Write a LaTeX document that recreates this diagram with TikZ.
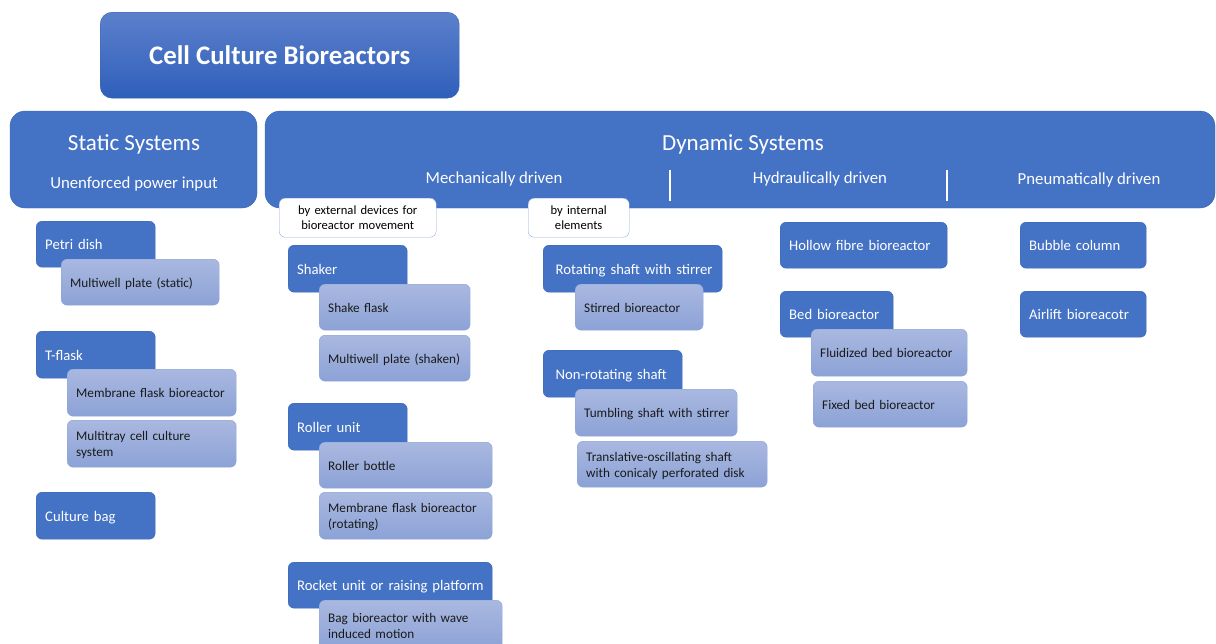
\documentclass[tikz,border=0pt]{standalone}
\usepackage{fontspec}
\setmainfont{Carlito}
\definecolor{dkblue}{HTML}{4472C4}
\definecolor{dkedge}{HTML}{3B66B5}
\definecolor{ttltop}{HTML}{5C80CC}
\definecolor{ttlbot}{HTML}{2F5FBA}
\definecolor{lttop}{HTML}{A9B8E0}
\definecolor{ltbot}{HTML}{8CA2D6}
\definecolor{ltedge}{HTML}{8EA6DA}
\definecolor{lbledge}{HTML}{8FAADC}
\definecolor{ink}{HTML}{1A1A1A}
\tikzset{
  base/.style={anchor=north west, align=left, inner ysep=1pt, rounded corners=6pt},
  dk/.style={base, draw=dkedge, fill=dkblue, text=white, font=\fontsize{14.7}{17}\selectfont},
  lt/.style={base, draw=ltedge, top color=lttop, bottom color=ltbot, text=ink, font=\fontsize{13.2}{16}\selectfont},
  lbl/.style={base, align=center, draw=lbledge, fill=white, text=black, font=\fontsize{12.6}{15.5}\selectfont},
  ttl/.style={base, align=center, draw=dkedge, top color=ttltop, bottom color=ttlbot, text=white, rounded corners=12pt, font=\fontsize{26.8}{30}\selectfont\bfseries},
  hdr/.style={draw=dkedge, fill=dkblue, rounded corners=15pt},
  hdrbig/.style={text=white, font=\fontsize{23}{26}\selectfont},
  hdrsub/.style={text=white, font=\fontsize{16.8}{20}\selectfont},
  sep/.style={draw=white, line width=2.5pt}
}
% \cell[padding]{style}{name}{x1}{y1}{x2}{y2}{text}; lines never wrap
\newcommand\cell[8][9]{%
  \pgfmathsetmacro\cellw{#6-#4-2*#1}%
  \pgfmathsetmacro\cellh{#7-#5}%
  \node[#2, inner xsep=#1pt, text width=\cellw pt, minimum height=\cellh pt] (#3) at (#4,#5)
    {\raisebox{-2pt}[\height][\depth]{\begin{tabular}{@{}l@{}}#8\end{tabular}}};%
}
\begin{document}
\begin{tikzpicture}[x=1pt, y=-1pt]
\useasboundingbox (0,0) rectangle (1216,643);

% title
\node[ttl, minimum width=359pt, minimum height=86pt] (title) at (100,12) {Cell Culture Bioreactors};

% top-level groups
\draw[hdr] (10,111) rectangle (257,208);
\node[hdrbig] (static) at (134,144) {Static Systems};
\node[hdrsub] (unenf) at (134,184) {Unenforced power input};

\draw[hdr] (265,111) rectangle (1215,208);
\node[hdrbig] (dynamic) at (743,144) {Dynamic Systems};
\node[hdrsub] (mech) at (494,179) {Mechanically driven};
\node[hdrsub] (hydr) at (820,179) {Hydraulically driven};
\node[hdrsub] (pneu) at (1089,180) {Pneumatically driven};
\coordinate (s1a) at (670,170); \coordinate (s1b) at (670,201);
\coordinate (s2a) at (947,170); \coordinate (s2b) at (947,201);
\draw[sep] (s1a) -- (s1b);
\draw[sep] (s2a) -- (s2b);

% sub-headings of mechanically driven
\node[lbl, text width=141pt, minimum height=39pt, inner xsep=8pt] (ext) at (279,198) {by external devices for\\bioreactor movement};
\node[lbl, text width=85pt, minimum height=39pt, inner xsep=8pt] (int) at (528,198) {by internal\\elements};

% static systems
\cell{dk}{petri}{36}{221}{155}{267}{Petri dish}
\cell{lt}{mwstat}{61}{259}{219}{305}{Multiwell plate (static)}
\cell{dk}{tflask}{36}{331}{155}{378}{T-flask}
\cell{lt}{memflask}{67}{369}{236}{416}{Membrane flask bioreactor}
\cell{lt}{multitray}{67}{420}{236}{467}{Multitray cell culture\\system}
\cell{dk}{bag}{36}{492}{155}{539}{Culture bag}

% external devices
\cell{dk}{shaker}{288}{245}{407}{292}{Shaker}
\cell{lt}{shakeflask}{319}{284}{470}{330}{Shake flask}
\cell{lt}{mwshaken}{319}{335}{470}{381}{Multiwell plate (shaken)}
\cell{dk}{roller}{288}{403}{407}{450}{Roller unit}
\cell{lt}{rbottle}{319}{442}{492}{488}{Roller bottle}
\cell{lt}{memrot}{319}{492}{492}{539}{Membrane flask bioreactor\\(rotating)}
\cell{dk}{rocket}{288}{562}{492}{608}{Rocket unit or raising platform}
\cell{lt}{wavebag}{319}{600}{502}{650}{Bag bioreactor with wave\\induced motion}

% internal elements
\cell[12.5]{dk}{rotshaft}{543}{245}{722}{292}{Rotating shaft with stirrer}
\cell{lt}{stirred}{575}{284}{703}{330}{Stirred bioreactor}
\cell[12.5]{dk}{nonrot}{543}{350}{682}{397}{Non-rotating shaft}
\cell{lt}{tumbling}{575}{389}{737}{436}{Tumbling shaft with stirrer}
\cell{lt}{transosc}{577}{441}{767}{487}{Translative-oscillating shaft\\with conicaly perforated disk}

% hydraulically driven
\cell{dk}{hollow}{780}{222}{947}{268}{Hollow fibre bioreactor}
\cell{dk}{bed}{780}{291}{893}{337}{Bed bioreactor}
\cell{lt}{fluid}{811}{329}{967}{376}{Fluidized bed bioreactor}
\cell{lt}{fixed}{813}{381}{967}{427}{Fixed bed bioreactor}

% pneumatically driven
\cell{dk}{bubble}{1020}{222}{1146}{268}{Bubble column}
\cell{dk}{airlift}{1020}{291}{1146}{337}{Airlift bioreacotr}
\end{tikzpicture}
\end{document}
